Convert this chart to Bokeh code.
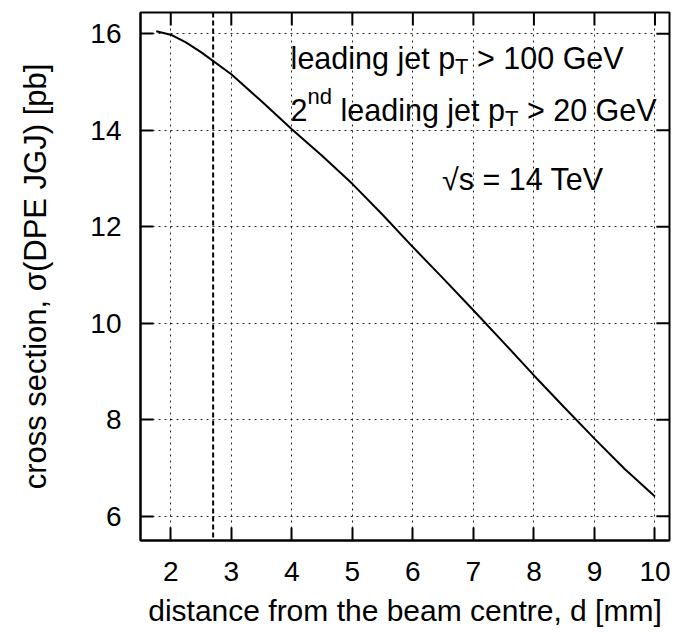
from bokeh.plotting import figure
from bokeh.models import Range1d, FixedTicker, Span, Label
from bokeh.embed import file_html
from bokeh.resources import INLINE

# DPE jet-gap-jet cross section vs. detector distance from the beam
distance_mm = [1.76, 2.0, 2.25, 2.5, 3.0, 3.5, 4.0, 4.5, 5.0, 5.5, 6.0,
               6.5, 7.0, 7.5, 8.0, 8.5, 9.0, 9.5, 10.0]
cross_section_pb = [16.05, 15.98, 15.82, 15.62, 15.16, 14.60, 14.02, 13.47, 12.89, 12.25, 11.58,
                    10.93, 10.27, 9.60, 8.92, 8.26, 7.61, 6.98, 6.41]
cut_distance_mm = 2.7

x_ticks = [2, 3, 4, 5, 6, 7, 8, 9, 10]
y_ticks = [6, 8, 10, 12, 14, 16]

FONT = "Liberation Sans"
TICK_SIZE = 28
XLABEL_SIZE = 30
YLABEL_SIZE = 31
NOTE_SIZE = 30.5
SCRIPT_SIZE = 22
TICK_LEN = 13  # px, ticks point into the frame

WIDTH, HEIGHT = 685, 633
BORDER_L, BORDER_R, BORDER_T, BORDER_B = 140, 16, 12, 93
X0, X1 = 1.5, 10.24
Y0, Y1 = 5.5, 16.44

# Helvetica/Arial advance widths (per 1000 em) used to chain text pieces
ADV = {" ": 278, ">": 584, "=": 584, "G": 778, "V": 667, "T": 611,
       "a": 556, "d": 556, "e": 556, "g": 556, "i": 222, "j": 222, "l": 222,
       "n": 556, "p": 556, "s": 500, "t": 278}
for ch in "0123456789":
    ADV[ch] = 556


def text_width(s, size):
    return sum(ADV.get(c, 556) for c in s) * size / 1000.0


p = figure(width=WIDTH, height=HEIGHT,
           x_range=Range1d(X0, X1), y_range=Range1d(Y0, Y1),
           output_backend="svg", toolbar_location=None,
           min_border_left=BORDER_L, min_border_right=BORDER_R,
           min_border_top=BORDER_T, min_border_bottom=BORDER_B)
p.background_fill_color = "white"
p.border_fill_color = "white"
p.outline_line_color = "black"
p.outline_line_width = 2

p.xaxis.ticker = FixedTicker(ticks=x_ticks)
p.yaxis.ticker = FixedTicker(ticks=y_ticks)
p.xaxis.axis_label = "distance from the beam centre, d [mm]"
p.yaxis.axis_label = "cross section, \u03c3(DPE JGJ) [pb]"

for ax in (p.xaxis, p.yaxis):
    ax.axis_line_width = 2
    ax.axis_line_color = "black"
    ax.major_tick_in = TICK_LEN
    ax.major_tick_out = 0
    ax.minor_tick_in = 0
    ax.minor_tick_out = 0
    ax.major_tick_line_width = 2
    ax.major_tick_line_color = "black"
    ax.major_label_text_font = FONT
    ax.major_label_text_font_size = f"{TICK_SIZE}px"
    ax.major_label_text_color = "black"
    ax.axis_label_text_font = FONT
    ax.axis_label_text_font_style = "normal"
    ax.axis_label_text_color = "black"

p.xaxis.axis_label_text_font_size = f"{XLABEL_SIZE}px"
p.yaxis.axis_label_text_font_size = f"{YLABEL_SIZE}px"
p.xaxis.major_label_standoff = 21
p.xaxis.axis_label_standoff = 10
p.yaxis.major_label_standoff = 19
p.yaxis.axis_label_standoff = 34

p.grid.grid_line_color = "black"
p.grid.grid_line_width = 1
p.grid.grid_line_dash = "2 4"
p.grid.grid_line_alpha = 0.85

# mirrored ticks along the top and right edges of the frame
frame_w = WIDTH - BORDER_L - BORDER_R
frame_h = HEIGHT - BORDER_T - BORDER_B
tick_dx = TICK_LEN * (X1 - X0) / frame_w
tick_dy = TICK_LEN * (Y1 - Y0) / frame_h
p.segment(x0=x_ticks, y0=[Y1] * len(x_ticks),
          x1=x_ticks, y1=[Y1 - tick_dy] * len(x_ticks),
          line_color="black", line_width=2)
p.segment(x0=[X1] * len(y_ticks), y0=y_ticks,
          x1=[X1 - tick_dx] * len(y_ticks), y1=y_ticks,
          line_color="black", line_width=2)

p.add_layout(Span(location=cut_distance_mm, dimension="height",
                  line_color="black", line_width=2, line_dash="5 3"))

p.line(distance_mm, cross_section_pb, line_color="black", line_width=2)


def add_rich_line(x, y, pieces):
    """Lay out (text, size, vertical shift) pieces left to right from (x, y).

    A piece may start with spaces; they are turned into horizontal advance,
    since SVG collapses leading whitespace.
    """
    dx = 0.0
    for txt, size, dy in pieces:
        stripped = txt.lstrip(" ")
        dx += text_width(txt[:len(txt) - len(stripped)], size)
        p.add_layout(Label(x=x, y=y, x_offset=dx, y_offset=dy, text=stripped,
                           text_font=FONT, text_font_size=f"{size}px",
                           text_color="black", text_baseline="alphabetic",
                           text_align="left"))
        dx += text_width(stripped, size)


add_rich_line(3.98, 15.50, [("leading jet p", NOTE_SIZE, 0),
                            ("T", SCRIPT_SIZE, -9),
                            (" > 100 GeV", NOTE_SIZE, 0)])
add_rich_line(3.98, 14.42, [("2", NOTE_SIZE, 0),
                            ("nd", SCRIPT_SIZE, 13),
                            (" leading jet p", NOTE_SIZE, 0),
                            ("T", SCRIPT_SIZE, -9),
                            (" > 20 GeV", NOTE_SIZE, 0)])
add_rich_line(6.48, 13.00, [("\u221as = 14 TeV", NOTE_SIZE, 0)])

open("out.html", "w").write(file_html(p, INLINE))
